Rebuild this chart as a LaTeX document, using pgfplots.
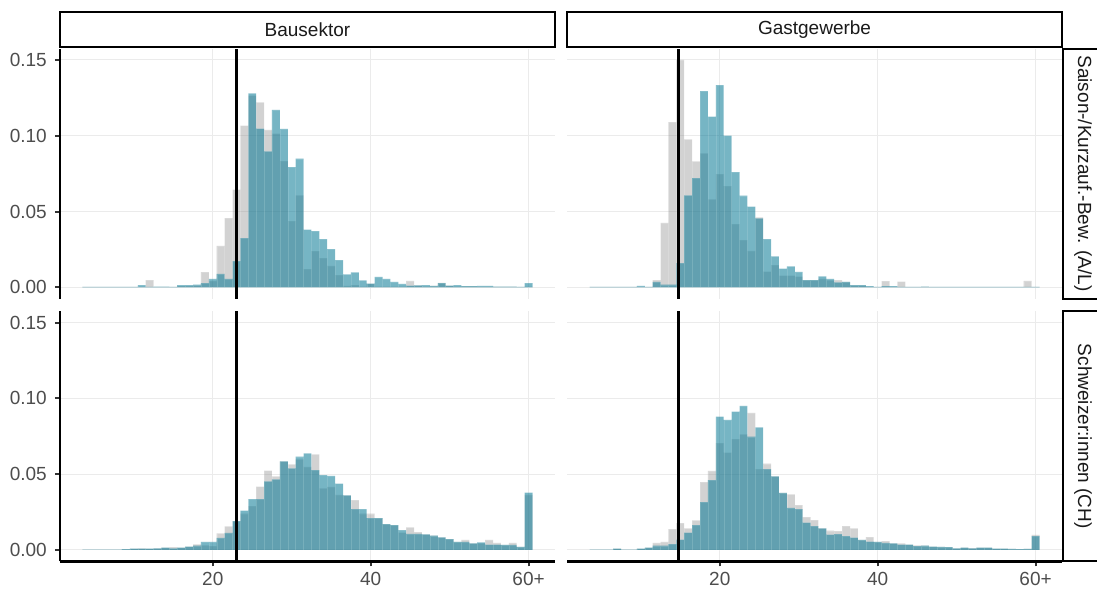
\documentclass[border=0pt]{standalone}
\usepackage{fontspec}
\setmainfont{Liberation Sans}
\usepackage{pgfplots}
\usepackage{pgfplotstable}
\pgfplotsset{compat=1.18}

\definecolor{histgrey}{RGB}{127,127,127}
\definecolor{histteal}{RGB}{6,120,148}
\definecolor{gridgrey}{RGB}{235,235,235}
\definecolor{tickgrey}{RGB}{51,51,51}
\definecolor{labelgrey}{RGB}{77,77,77}
\definecolor{stripgrey}{RGB}{26,26,26}

% v = bin centre (width 1), g = grey series, t = teal series
\pgfplotstableread{
v g t
4 0.0003 0.0002
5 0.0003 0.0002
6 0.0003 0.0002
7 0.0003 0.0002
8 0.0003 0.0002
9 0.0003 0.0002
10 0.0003 0.0003
11 0.0003 0.0015
12 0.0048 0.0003
13 0.0003 0.0004
14 0.0003 0.0005
15 0.0003 0.0002
16 0.0008 0.0015
17 0.0010 0.0015
18 0.0012 0.0017
19 0.0100 0.0028
20 0.0040 0.0055
21 0.0274 0.0088
22 0.0456 0.0055
23 0.0644 0.0173
24 0.1067 0.0324
25 0.1265 0.1280
26 0.1220 0.1047
27 0.1038 0.0896
28 0.1014 0.1170
29 0.0832 0.1045
30 0.0436 0.0793
31 0.0607 0.0848
32 0.0120 0.0381
33 0.0239 0.0370
34 0.0193 0.0318
35 0.0142 0.0252
36 0.0081 0.0180
37 0.0010 0.0085
38 0.0015 0.0099
39 0.0005 0.0046
40 0.0024 0.0024
41 0.0005 0.0068
42 0.0005 0.0055
43 0.0005 0.0035
44 0.0005 0.0022
45 0.0042 0.0011
46 0.0012 0.0012
47 0.0005 0.0015
48 0.0010 0.0010
49 0.0030 0.0028
50 0.0011 0.0011
51 0.0005 0.0015
52 0.0007 0.0007
53 0.0007 0.0007
54 0.0005 0.0009
55 0.0005 0.0009
56 0.0004 0.0004
57 0.0004 0.0004
58 0.0004 0.0004
59 0.0003 0.0003
60 0.0005 0.0028
61 0 0
}\bauAL

\pgfplotstableread{
v g t
4 0.0002 0.0002
5 0.0002 0.0002
6 0.0002 0.0002
7 0.0002 0.0002
8 0.0002 0.0002
9 0.0002 0.0002
10 0.0003 0.0010
11 0.0003 0.0003
12 0.0048 0.0035
13 0.0425 0.0017
14 0.1090 0.0017
15 0.1500 0.0160
16 0.0975 0.0607
17 0.0830 0.0720
18 0.0883 0.1294
19 0.0580 0.1126
20 0.0747 0.1334
21 0.0668 0.1001
22 0.0416 0.0760
23 0.0311 0.0604
24 0.0241 0.0532
25 0.0462 0.0455
26 0.0103 0.0318
27 0.0147 0.0204
28 0.0077 0.0123
29 0.0077 0.0138
30 0.0070 0.0101
31 0.0048 0.0048
32 0.0048 0.0048
33 0.0055 0.0072
34 0.0045 0.0055
35 0.0048 0.0033
36 0.0035 0.0035
37 0.0012 0.0015
38 0.0012 0.0015
39 0.0005 0.0007
40 0.0003 0.0003
41 0.0040 0.0008
42 0.0005 0.0007
43 0.0037 0.0003
44 0.0003 0.0003
45 0.0003 0.0003
46 0.0004 0.0004
47 0.0003 0.0003
48 0.0002 0.0002
49 0.0002 0.0002
50 0.0003 0.0003
51 0.0002 0.0002
52 0.0002 0.0002
53 0.0002 0.0002
54 0.0002 0.0002
55 0.0002 0.0002
56 0.0002 0.0002
57 0.0002 0.0002
58 0.0002 0.0002
59 0.0042 0.0002
60 0.0003 0.0003
61 0 0
}\gastAL

\pgfplotstableread{
v g t
4 0.0002 0.0002
5 0.0002 0.0002
6 0.0002 0.0002
7 0.0002 0.0002
8 0.0003 0.0003
9 0.0005 0.0005
10 0.0009 0.0009
11 0.0011 0.0009
12 0.0009 0.0009
13 0.0011 0.0011
14 0.0015 0.0015
15 0.0018 0.0011
16 0.0015 0.0015
17 0.0022 0.0022
18 0.0037 0.0028
19 0.0030 0.0053
20 0.0026 0.0053
21 0.0110 0.0079
22 0.0155 0.0112
23 0.0190 0.0190
24 0.0239 0.0260
25 0.0289 0.0335
26 0.0418 0.0335
27 0.0523 0.0453
28 0.0486 0.0466
29 0.0585 0.0585
30 0.0565 0.0539
31 0.0598 0.0615
32 0.0548 0.0637
33 0.0630 0.0526
34 0.0407 0.0493
35 0.0416 0.0488
36 0.0364 0.0438
37 0.0360 0.0360
38 0.0329 0.0269
39 0.0239 0.0269
40 0.0239 0.0210
41 0.0210 0.0210
42 0.0171 0.0171
43 0.0164 0.0164
44 0.0114 0.0131
45 0.0149 0.0107
46 0.0118 0.0107
47 0.0103 0.0103
48 0.0094 0.0094
49 0.0083 0.0083
50 0.0072 0.0072
51 0.0053 0.0053
52 0.0066 0.0053
53 0.0044 0.0044
54 0.0044 0.0050
55 0.0066 0.0035
56 0.0046 0.0035
57 0.0033 0.0033
58 0.0046 0.0033
59 0.0020 0.0020
60 0.0364 0.0379
61 0 0
}\bauCH

\pgfplotstableread{
v g t
4 0.0002 0.0002
5 0.0002 0.0002
6 0.0002 0.0002
7 0.0009 0.0009
8 0.0002 0.0002
9 0.0002 0.0002
10 0.0009 0.0009
11 0.0015 0.0015
12 0.0046 0.0028
13 0.0053 0.0028
14 0.0138 0.0039
15 0.0177 0.0068
16 0.0142 0.0114
17 0.0195 0.0164
18 0.0447 0.0315
19 0.0521 0.0460
20 0.0705 0.0880
21 0.0642 0.0858
22 0.0731 0.0913
23 0.0762 0.0950
24 0.0904 0.0747
25 0.0534 0.0808
26 0.0569 0.0534
27 0.0486 0.0486
28 0.0377 0.0377
29 0.0366 0.0278
30 0.0296 0.0269
31 0.0217 0.0180
32 0.0197 0.0158
33 0.0142 0.0142
34 0.0127 0.0101
35 0.0125 0.0105
36 0.0158 0.0092
37 0.0142 0.0081
38 0.0066 0.0066
39 0.0085 0.0055
40 0.0053 0.0053
41 0.0059 0.0046
42 0.0044 0.0044
43 0.0044 0.0035
44 0.0035 0.0035
45 0.0030 0.0026
46 0.0028 0.0028
47 0.0022 0.0022
48 0.0020 0.0020
49 0.0018 0.0018
50 0.0011 0.0011
51 0.0015 0.0015
52 0.0013 0.0011
53 0.0015 0.0015
54 0.0015 0.0015
55 0.0009 0.0009
56 0.0009 0.0009
57 0.0007 0.0007
58 0.0005 0.0005
59 0.0007 0.0007
60 0.0099 0.0092
61 0 0
}\gastCH

\newcommand{\labfont}{\fontsize{14.25}{17}\selectfont}

\pgfplotsset{
  panel/.style={
    scale only axis, width=371.25pt, height=187.6pt, anchor=north west,
    xmin=0.65, xmax=63.35, ymin=-0.0075, ymax=0.1575,
    xtick={20,40,60}, ytick={0,0.05,0.10,0.15},
    grid=major, major grid style={gridgrey, line width=0.75pt},
    axis line style={draw=none},
    tick align=outside, major tick length=3.75pt,
    xtick pos=bottom, ytick pos=left,
    tick style={tickgrey, line width=1.5pt},
    xticklabels={}, yticklabels={},
    xticklabel style={font=\labfont, text=labelgrey, inner sep=0pt, yshift=-4.25pt},
    yticklabel style={font=\labfont, text=labelgrey, inner sep=0pt, xshift=-6pt},
    clip=false,
  },
  noxticks/.style={xtick style={draw=none}},
  noyticks/.style={ytick style={draw=none}},
  greybar/.style={ybar interval, fill=histgrey, fill opacity=0.35, draw=white, draw opacity=0.15, line width=0.3pt},
  tealbar/.style={ybar interval, fill=histteal, fill opacity=0.55, draw=white, draw opacity=0.12, line width=0.3pt},
  refline/.style={black, line width=2pt},
}

\begin{document}
\begin{tikzpicture}
\path[use as bounding box] (0,0) rectangle (822.75pt,-442.5pt);

% top left
\begin{axis}[panel, noxticks, at={(45pt,-36.4pt)}, yticklabels={0.00,0.05,0.10,0.15}]
\addplot[greybar] table[x expr=\thisrow{v}-0.5, y=g] {\bauAL};
\addplot[tealbar] table[x expr=\thisrow{v}-0.5, y=t] {\bauAL};
\addplot[refline] coordinates {(23,-0.0075) (23,0.1575)};
\draw[black, line width=2pt] (rel axis cs:0,0) -- (rel axis cs:0,1);
\end{axis}

% top right
\begin{axis}[panel, noxticks, noyticks, at={(425.25pt,-36.4pt)}]
\addplot[greybar] table[x expr=\thisrow{v}-0.5, y=g] {\gastAL};
\addplot[tealbar] table[x expr=\thisrow{v}-0.5, y=t] {\gastAL};
\addplot[refline] coordinates {(14.8,-0.0075) (14.8,0.1575)};
\end{axis}

% bottom left
\begin{axis}[panel, at={(45pt,-233.4pt)}, yticklabels={0.00,0.05,0.10,0.15}, xticklabels={20,40,60+}]
\addplot[greybar] table[x expr=\thisrow{v}-0.5, y=g] {\bauCH};
\addplot[tealbar] table[x expr=\thisrow{v}-0.5, y=t] {\bauCH};
\addplot[refline] coordinates {(23,-0.0075) (23,0.1575)};
\draw[black, line width=2pt] (rel axis cs:0,0) -- (rel axis cs:0,1);
\draw[black, line width=2pt] (rel axis cs:0,0) -- (rel axis cs:1,0);
\end{axis}

% bottom right
\begin{axis}[panel, noyticks, at={(425.25pt,-233.4pt)}, xticklabels={20,40,60+}]
\addplot[greybar] table[x expr=\thisrow{v}-0.5, y=g] {\gastCH};
\addplot[tealbar] table[x expr=\thisrow{v}-0.5, y=t] {\gastCH};
\addplot[refline] coordinates {(14.8,-0.0075) (14.8,0.1575)};
\draw[black, line width=2pt] (rel axis cs:0,0) -- (rel axis cs:1,0);
\end{axis}

% facet strips
\draw[line width=1.5pt, fill=white] (45pt,-9pt) rectangle (416.25pt,-35.6pt);
\node[text=stripgrey, font=\labfont] at (230.6pt,-22.5pt) {Bausektor};
\draw[line width=1.5pt, fill=white] (425.25pt,-9pt) rectangle (796.5pt,-35.6pt);
\node[text=stripgrey, font=\labfont] at (610.9pt,-22.5pt) {Gastgewerbe};
\draw[line width=1.5pt, fill=white] (797.6pt,-36.4pt) rectangle (827pt,-224pt);
\node[text=stripgrey, font=\labfont, rotate=-90] at (812.3pt,-130.2pt) {Saison-/Kurzauf.-Bew. (A/L)};
\draw[line width=1.5pt, fill=white] (797.6pt,-233.4pt) rectangle (827pt,-421pt);
\node[text=stripgrey, font=\labfont, rotate=-90] at (812.3pt,-327.2pt) {Schweizer:innen (CH)};
\end{tikzpicture}
\end{document}
